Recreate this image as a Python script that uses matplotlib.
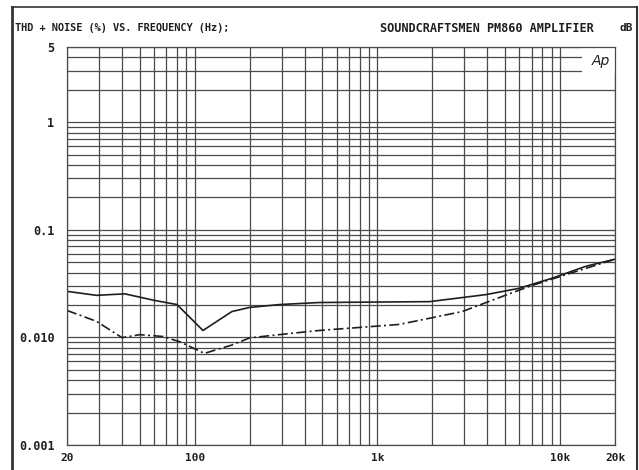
"""THD + noise vs. frequency, Soundcraftsmen PM860 (scan recreation)."""
import matplotlib
matplotlib.use("Agg")
import matplotlib.pyplot as plt
from matplotlib.ticker import FixedLocator, LogLocator, NullFormatter

# ---- data ----
freq_solid = [20, 29, 41.5, 60, 80, 111, 160, 200, 292, 482, 1930, 3940, 5980, 9060, 13900, 20000]
thd_solid = [0.0268, 0.0246, 0.0254, 0.0221, 0.0202, 0.0116, 0.0174, 0.019, 0.0202, 0.0211,
             0.0215, 0.025, 0.0286, 0.0355, 0.0459, 0.0533]

freq_dash = [20, 29, 40, 50, 67, 83, 113, 160, 200, 330, 482, 1320, 2920, 4820, 7030, 11200, 20000]
thd_dash = [0.0178, 0.0141, 0.00995, 0.0106, 0.0102, 0.0091, 0.0071, 0.0085, 0.0099, 0.01086,
            0.0116, 0.0132, 0.0174, 0.024, 0.0304, 0.0391, 0.0533]

xtick_vals = [20, 100, 1000, 10000, 20000]
xtick_labels = ["20", "100", "1k", "10k", "20k"]
ytick_vals = [0.001, 0.01, 0.1, 1, 5]
ytick_labels = ["0.001", "0.010", "0.1", "1", "5"]

title_left = "THD + NOISE (%) VS. FREQUENCY (Hz);"
title_right = "SOUNDCRAFTSMEN PM860 AMPLIFIER"
units = "dB"

INK = "#1e1e1e"
GRID = "#4a4a4a"
FONT = dict(family="DejaVu Sans Mono", weight="bold", color=INK)

fig = plt.figure(figsize=(6.39, 4.70), dpi=100)
ax = fig.add_axes([67 / 639, 25 / 470, 548 / 639, 398 / 470])

ax.plot(freq_solid, thd_solid, color=INK, lw=1.2)
ax.plot(freq_dash, thd_dash, color=INK, lw=1.2, dashes=(6, 2, 1.2, 2))

ax.set_xscale("log")
ax.set_yscale("log")
ax.set_xlim(20, 20000)
ax.set_ylim(0.001, 5)

# dense graph-paper grid
ax.xaxis.set_major_locator(FixedLocator(xtick_vals))
ax.xaxis.set_minor_locator(LogLocator(base=10, subs=range(2, 10), numticks=20))
ax.yaxis.set_major_locator(FixedLocator(ytick_vals))
ax.yaxis.set_minor_locator(LogLocator(base=10, subs=range(2, 10), numticks=20))
ax.xaxis.set_minor_formatter(NullFormatter())
ax.yaxis.set_minor_formatter(NullFormatter())
ax.grid(True, which="both", color=GRID, lw=0.9)
ax.set_axisbelow(True)

ax.set_xticklabels(xtick_labels, fontsize=8, **FONT)
ax.set_yticklabels(ytick_labels, fontsize=8.5, **FONT)
ax.tick_params(which="both", length=0)
ax.tick_params(axis="x", pad=6)
ax.tick_params(axis="y", pad=9)
for s in ax.spines.values():
    s.set_color(GRID)
    s.set_linewidth(0.9)

# "Ap" logo box in the top-right corner
ax.add_patch(plt.Rectangle((0.94, 0.93), 0.06, 0.07, transform=ax.transAxes,
                           facecolor="white", edgecolor="none", zorder=2))
ax.text(0.975, 0.965, "Ap", transform=ax.transAxes, ha="center", va="center",
        fontsize=10, style="italic", color=INK, zorder=3)

# header and outer frame
fig.text(15 / 639, 1 - 28 / 470, title_left, ha="left", va="center", fontsize=7.4, **FONT)
fig.text(594 / 639, 1 - 28 / 470, title_right, ha="right", va="center", fontsize=8.6, **FONT)
fig.text(633 / 639, 1 - 28 / 470, units, ha="right", va="center", fontsize=8, **FONT)
fig.add_artist(plt.Line2D([12 / 639, 12 / 639], [0, 1 - 7 / 470], color="#333", lw=2))
fig.add_artist(plt.Line2D([12 / 639, 637 / 639], [1 - 7 / 470, 1 - 7 / 470], color="#333", lw=1.2))
fig.add_artist(plt.Line2D([637 / 639, 637 / 639], [0, 1 - 7 / 470], color="#333", lw=1.5))

fig.savefig("out.png", dpi=100)
